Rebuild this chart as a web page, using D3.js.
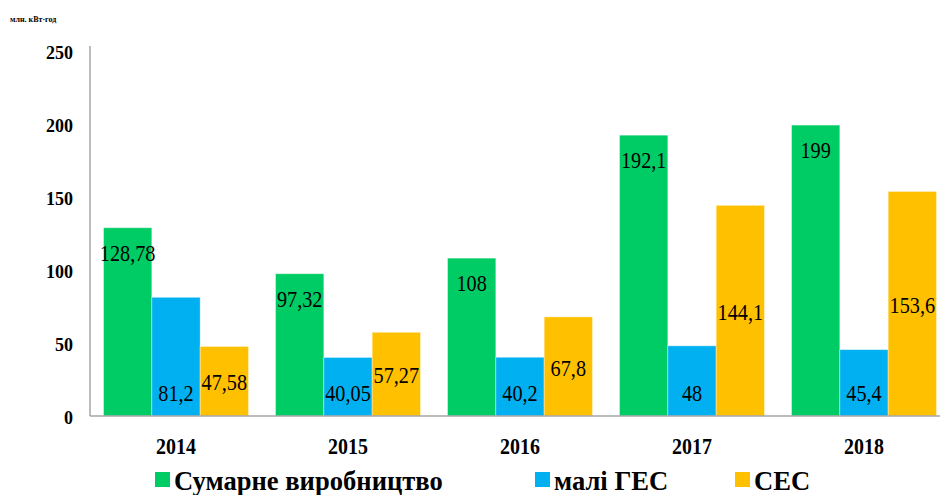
<!DOCTYPE html>
<html>
<head>
<meta charset="utf-8">
<script src="https://cdn.jsdelivr.net/npm/d3@7"></script>
<style>
  body { margin: 0; background: #fff; }
</style>
</head>
<body>
<div id="my_dataviz"></div>
<script>
var serif = "'Liberation Serif', 'Times New Roman', serif";
// The label of columns
var years = ["2014", "2015", "2016", "2017", "2018"];
var seriesNames = ["Сумарне виробництво", "малі ГЕС", "СЕС"];
var seriesColors = ["#00cc66", "#00b0f0", "#ffc000"];
// values per series, one per year
var totalValues = [128.78, 97.32, 108, 192.1, 199];
var hydroValues = [81.2, 40.05, 40.2, 48, 45.4];
var solarValues = [47.58, 57.27, 67.8, 144.1, 153.6];
var valueLabels = [
  ["128,78", "97,32", "108", "192,1", "199"],
  ["81,2", "40,05", "40,2", "48", "45,4"],
  ["47,58", "57,27", "67,8", "144,1", "153,6"]
];
var yTicks = [0, 50, 100, 150, 200, 250];
var unitLabel = "млн. кВт·год";

var width = 940, height = 495;

var svg = d3.select("#my_dataviz")
            .append("svg")
              .attr("width", width)
              .attr("height", height)
              .style("font-family", serif);

// Build scales
var x = d3.scaleBand()
          .range([90, 950])
          .domain(years)
          .paddingInner(0.157)
          .paddingOuter(0.0785);

var xs = d3.scaleBand()
           .range([0, x.bandwidth()])
           .domain(d3.range(seriesNames.length));

var y = d3.scaleLinear()
          .range([416, 50.5])
          .domain([0, 250]);

var allValues = [totalValues, hydroValues, solarValues];

var data = [];
years.forEach(function (year, i) {
  allValues.forEach(function (vals, s) {
    data.push({year: year, s: s, value: vals[i], label: valueLabels[s][i]});
  });
});

// bars
svg.selectAll(".bar")
   .data(data)
   .enter()
   .append("rect")
     .attr("class", "bar")
     .attr("x", function(d) { return x(d.year) + xs(d.s); })
     .attr("y", function(d) { return y(d.value); })
     .attr("width", xs.bandwidth())
     .attr("height", function(d) { return y(0) - y(d.value); })
     .style("fill", function(d) { return seriesColors[d.s]; })
     .style("stroke", "#ffffff")
     .style("stroke-opacity", 0.5)
     .style("stroke-width", 0.8);

// value labels: green at top, blue at base, yellow in the middle
svg.selectAll(".vlabel")
   .data(data)
   .enter()
   .append("text")
     .attr("class", "vlabel")
     .attr("transform", function(d) {
        var cx = x(d.year) + xs(d.s) + xs.bandwidth() / 2;
        var cy;
        if (d.s === 0) cy = y(d.value) + 25;
        else if (d.s === 1) cy = y(0) - 23;
        else cy = (y(d.value) + y(0)) / 2 + 1;
        return "translate(" + cx + "," + cy + ") scale(0.88,1)";
      })
     .attr("dy", "0.35em")
     .style("text-anchor", "middle")
     .style("font-size", "23px")
     .style("fill", "#000")
     .text(function(d) { return d.label; });

// axis lines
svg.append("line")
   .attr("x1", 90).attr("x2", 90)
   .attr("y1", 46).attr("y2", y(0))
   .style("stroke", "#a6a6a6")
   .style("stroke-width", 1.5);
svg.append("line")
   .attr("x1", 90).attr("x2", 940)
   .attr("y1", y(0)).attr("y2", y(0))
   .style("stroke", "#a6a6a6")
   .style("stroke-width", 1.5);

// y tick labels
svg.selectAll(".ytick")
   .data(yTicks)
   .enter()
   .append("text")
     .attr("class", "ytick")
     .attr("x", 73)
     .attr("y", function(d) { return y(d) + 2; })
     .attr("dy", "0.35em")
     .style("text-anchor", "end")
     .style("font-size", "18px")
     .style("font-weight", "bold")
     .text(function(d) { return d; });

// x tick labels
svg.selectAll(".xtick")
   .data(years)
   .enter()
   .append("text")
     .attr("class", "xtick")
     .attr("transform", function(d) {
        return "translate(" + (x(d) + x.bandwidth() / 2) + ",446) scale(0.83,1)";
      })
     .attr("dy", "0.35em")
     .style("text-anchor", "middle")
     .style("font-size", "24px")
     .style("font-weight", "bold")
     .text(function(d) { return d; });

// unit label
svg.append("text")
   .attr("x", 10)
   .attr("y", 22)
   .style("font-size", "8px")
   .style("font-weight", "bold")
   .text(unitLabel);

// legend
var legendX = [155, 535, 735];
var legend = svg.selectAll(".legend")
   .data(seriesNames)
   .enter()
   .append("g")
     .attr("class", "legend")
     .attr("transform", function(d, i) { return "translate(" + legendX[i] + ",472)"; });

legend.append("rect")
   .attr("width", 15)
   .attr("height", 15)
   .style("fill", function(d, i) { return seriesColors[i]; });

legend.append("text")
   .attr("transform", "translate(19,8) scale(0.95,1)")
   .attr("dy", "0.35em")
   .style("font-size", "28px")
   .style("font-weight", "bold")
   .text(function(d) { return d; });
</script>
</body>
</html>
